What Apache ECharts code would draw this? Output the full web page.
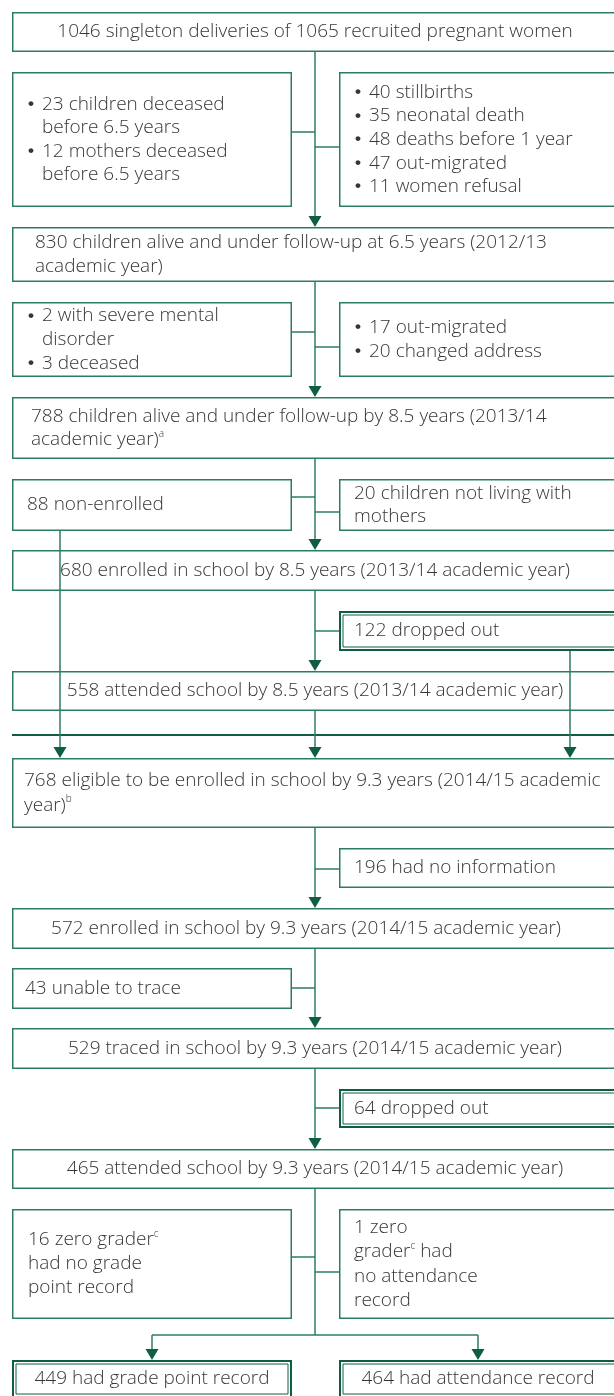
<!DOCTYPE html>
<html><head><meta charset="utf-8">
<script src="https://cdn.jsdelivr.net/npm/echarts@6.0.0/dist/echarts.min.js"></script>
<style>html,body{margin:0;padding:0;background:#fff}#c{width:614px;height:1396px}</style>
</head><body><div id="c"></div>
<script>
// ---------- texts ----------
const mainLabels = [
  ["1046 singleton deliveries of 1065 recruited pregnant women"],
  ["830 children alive and under follow-up at 6.5 years (2012/13", "academic year)"],
  ["788 children alive and under follow-up by 8.5 years (2013/14", "academic year){sup|a}"],
  ["680 enrolled in school by 8.5 years (2013/14 academic year)"],
  ["558 attended school by 8.5 years (2013/14 academic year)"],
  ["768 eligible to be enrolled in school by 9.3 years (2014/15 academic", "year){sup|b}"],
  ["572 enrolled in school by 9.3 years (2014/15 academic year)"],
  ["529 traced in school by 9.3 years (2014/15 academic year)"],
  ["465 attended school by 9.3 years (2014/15 academic year)"]
];
const leftLabels = [
  ["• 23 children deceased", "before 6.5 years", "• 12 mothers deceased", "before 6.5 years"],
  ["• 2 with severe mental", "disorder", "• 3 deceased"],
  ["88 non-enrolled"],
  ["43 unable to trace"],
  ["16 zero grader{sup|c}", "had no grade", "point record"]
];
const rightLabels = [
  ["• 40 stillbirths", "• 35 neonatal death", "• 48 deaths before 1 year", "• 47 out-migrated", "• 11 women refusal"],
  ["• 17 out-migrated", "• 20 changed address"],
  ["20 children not living with", "mothers"],
  ["196 had no information"],
  ["1 zero", "grader{sup|c} had", "no attendance", "record"]
];
const droppedLabels = [["122 dropped out"], ["64 dropped out"]];
const finalLabels = [["449 had grade point record"], ["464 had attendance record"]];

// ---------- layout (pixel units of the hidden axes) ----------
const R = 620;
const nodes = [
  {lines: mainLabels[0], box: [12, 12, R, 52], tx: 315, align: 'center'},
  {lines: mainLabels[1], box: [12, 227, R, 282], tx: 35, align: 'left', step: 23.4},
  {lines: mainLabels[2], box: [12, 397, R, 459], tx: 31, align: 'left', step: 23.4},
  {lines: mainLabels[3], box: [12, 550, R, 591], tx: 315, align: 'center'},
  {lines: mainLabels[4], box: [12, 671, R, 711], tx: 315, align: 'center'},
  {lines: mainLabels[5], box: [12, 758, R, 828], tx: 24, align: 'left', step: 24.5},
  {lines: mainLabels[6], box: [12, 908, R, 949], tx: 306, align: 'center'},
  {lines: mainLabels[7], box: [12, 1028, R, 1069], tx: 315, align: 'center'},
  {lines: mainLabels[8], box: [12, 1149, R, 1189], tx: 315, align: 'center'},

  {lines: leftLabels[0], box: [12, 72, 292, 207], tx: 28, bullet: true},
  {lines: leftLabels[1], box: [12, 302, 292, 377], tx: 28, bullet: true},
  {lines: leftLabels[2], box: [12, 479, 292, 531], tx: 27, align: 'left'},
  {lines: leftLabels[3], box: [12, 968, 292, 1009], tx: 25, align: 'left'},
  {lines: leftLabels[4], box: [12, 1209, 292, 1319], tx: 28, align: 'left', step: 24},

  {lines: rightLabels[0], box: [339, 72, R, 207], tx: 355, bullet: true},
  {lines: rightLabels[1], box: [339, 302, R, 377], tx: 355, bullet: true},
  {lines: rightLabels[2], box: [339, 479, R, 531], tx: 354, align: 'left'},
  {lines: rightLabels[3], box: [339, 848, R, 888], tx: 354, align: 'left'},
  {lines: rightLabels[4], box: [339, 1209, R, 1319], tx: 354, align: 'left', step: 24.3},

  {lines: droppedLabels[0], box: [339, 611, R, 651], tx: 354, align: 'left', dbl: true},
  {lines: droppedLabels[1], box: [339, 1089, R, 1128], tx: 354, align: 'left', dbl: true},
  {lines: finalLabels[0], box: [12, 1360, 292, 1398], tx: 152, align: 'center', dbl: true},
  {lines: finalLabels[1], box: [339, 1360, R, 1398], tx: 478, align: 'center', dbl: true}
];

const segments = [
  [315, 52, 315, 220], [292, 132, 315, 132], [315, 147, 339, 147],
  [315, 282, 315, 390], [292, 332, 315, 332], [315, 347, 339, 347],
  [315, 459, 315, 543], [292, 497, 315, 497], [315, 512, 339, 512],
  [315, 591, 315, 664], [315, 631, 339, 631],
  [60, 531, 60, 751], [570, 651, 570, 751], [315, 711, 315, 751],
  [315, 828, 315, 901], [315, 869, 339, 869],
  [315, 949, 315, 1021], [292, 988, 315, 988],
  [315, 1069, 315, 1142], [315, 1108, 339, 1108],
  [315, 1189, 315, 1335], [292, 1257, 315, 1257], [315, 1272, 339, 1272],
  [152, 1335, 478, 1335], [152, 1335, 152, 1353], [478, 1335, 478, 1353]
];
const heavySegments = [[12, 735, R, 735]];
const arrowTips = [
  [315, 227], [315, 397], [315, 550], [315, 671],
  [60, 758], [315, 758], [570, 758],
  [315, 908], [315, 1028], [315, 1149],
  [152, 1360], [478, 1360]
];

// ---------- styles ----------
const LINE = '#2c7c63';
const DARK = '#0f5e44';
const TXT = '#363636';
const FONT = '300 19px "Open Sans", "Liberation Sans", sans-serif';
const BULLET_FONT = '700 17px "Liberation Sans", sans-serif';
const RICH = {sup: {fontSize: 10, fontFamily: 'Open Sans', fontWeight: 300, fill: TXT, verticalAlign: 'top', lineHeight: 13}};

function textEl(t, x, y, align, font) {
  return {type: 'text', z2: 5, style: {text: t, x: x, y: y, fill: TXT, font: font || FONT, align: align,
    verticalAlign: 'middle', lineHeight: 22, rich: RICH}};
}

function renderBox(params, api) {
  const n = nodes[params.dataIndex];
  const p0 = api.coord([api.value(0), api.value(1)]);
  const p1 = api.coord([api.value(2), api.value(3)]);
  const x = p0[0], y = p0[1], w = p1[0] - p0[0], h = p1[1] - p0[1];
  const ch = [];
  if (n.dbl) {
    ch.push({type: 'rect', shape: {x: x + 1, y: y + 1, width: w - 2, height: h - 2},
      style: {fill: '#fff', stroke: DARK, lineWidth: 2}});
    ch.push({type: 'rect', shape: {x: x + 4, y: y + 4, width: w - 8, height: h - 8},
      style: {fill: 'none', stroke: DARK, lineWidth: 1}});
  } else {
    ch.push({type: 'rect', shape: {x: x + 0.75, y: y + 0.75, width: w - 1.5, height: h - 1.5},
      style: {fill: '#fff', stroke: LINE, lineWidth: 1.5}});
  }
  const step = n.step || 23.6;
  const cy = y + h / 2;
  const first = cy - (n.lines.length - 1) * step / 2;
  const tx = api.coord([n.tx, 0])[0];
  n.lines.forEach(function (ln, k) {
    const yy = first + k * step;
    if (n.bullet) {
      let t = ln;
      if (t.indexOf('• ') === 0) {
        t = t.slice(2);
        ch.push(textEl('•', tx, yy, 'left', BULLET_FONT));
      }
      ch.push(textEl(t, tx + 14, yy, 'left'));
    } else {
      ch.push(textEl(ln, tx, yy, n.align));
    }
  });
  return {type: 'group', children: ch};
}

function segRenderer(width, color) {
  return function (params, api) {
    const a = api.coord([api.value(0), api.value(1)]);
    const b = api.coord([api.value(2), api.value(3)]);
    return {type: 'line', shape: {x1: a[0], y1: a[1], x2: b[0], y2: b[1]},
      style: {stroke: color, lineWidth: width}};
  };
}

function renderArrow(params, api) {
  const p = api.coord([api.value(0), api.value(1)]);
  return {type: 'polygon', shape: {points: [[p[0] - 6.5, p[1] - 11], [p[0] + 6.5, p[1] - 11], [p[0], p[1]]]},
    style: {fill: DARK}};
}

const chart = echarts.init(document.getElementById('c'), null, {renderer: 'canvas'});
chart.setOption({
  animation: false,
  backgroundColor: '#fff',
  grid: {left: 0, right: 0, top: 0, bottom: 0},
  xAxis: {type: 'value', min: 0, max: 614, show: false},
  yAxis: {type: 'value', min: 0, max: 1396, inverse: true, show: false},
  series: [
    {type: 'custom', coordinateSystem: 'cartesian2d', clip: false, z: 1,
      encode: {x: [0, 2], y: [1, 3]},
      data: nodes.map(function (n) { return n.box; }), renderItem: renderBox},
    {type: 'custom', coordinateSystem: 'cartesian2d', clip: false, z: 3,
      encode: {x: [0, 2], y: [1, 3]}, data: segments, renderItem: segRenderer(1.5, LINE)},
    {type: 'custom', coordinateSystem: 'cartesian2d', clip: false, z: 2,
      encode: {x: [0, 2], y: [1, 3]}, data: heavySegments, renderItem: segRenderer(2, DARK)},
    {type: 'custom', coordinateSystem: 'cartesian2d', clip: false, z: 4,
      encode: {x: 0, y: 1}, data: arrowTips, renderItem: renderArrow}
  ]
});
</script>
</body></html>
